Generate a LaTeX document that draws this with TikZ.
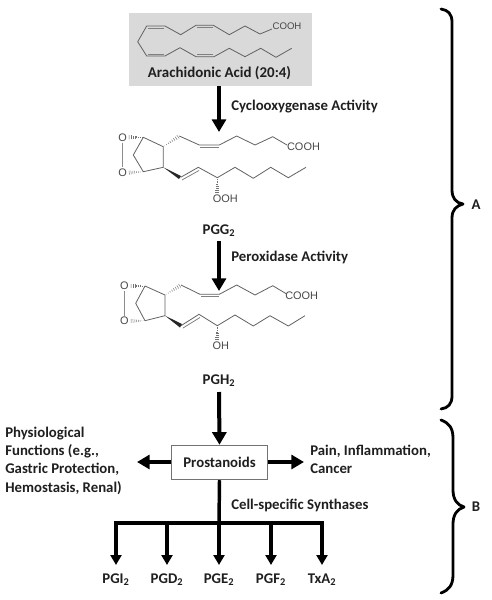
\documentclass[tikz,border=0pt]{standalone}
\usepackage{fontspec}
\setmainfont{Carlito}
\newfontfamily\chemfont{Liberation Sans}
\usetikzlibrary{arrows.meta,calc}
\tikzset{
 lab/.style={font=\fontsize{11.1}{13.6}\selectfont\bfseries, text=black!88, inner sep=0pt},
 leftlab/.style={lab, anchor=west, align=left},
 chem/.style={font=\chemfont\fontsize{8.2}{10}\selectfont, text=black!72, inner sep=0pt, outer sep=1pt},
 bond/.style={draw=black!62, line width=0.6pt, line join=round},
 dbl/.style={draw=black!50, line width=0.6pt},
 flow/.style={draw=black, line width=3pt, -{Triangle[width=10.5pt,length=9.5pt]}},
 trunk/.style={draw=black, line width=2.6pt},
 branch/.style={draw=black, line width=2.4pt, -{Triangle[width=8.2pt,length=7.5pt]}},
 brace/.style={draw=black, line width=2.1pt, line cap=round, line join=round},
 hashline/.style={draw=black!55, line width=0.35pt},
}
\newcommand{\hashw}[2]{\foreach \i in {0.08,0.2,...,1.02}{\draw[hashline] ($(#1)!\i!(#2)!\i*1.7pt!90:(#2)$) -- ($(#1)!\i!(#2)!\i*1.7pt!-90:(#2)$);}}
\newcommand{\subtwo}{\textsubscript{2}}
\begin{document}
\begin{tikzpicture}[x=0.75pt,y=-0.75pt]
\useasboundingbox (0,0) rectangle (492,600);
\fill[black!15] (129,13) rectangle (312,86);
\node[coordinate] (aaboxs) at (219,86) {};
% arachidonic acid
\node[lab, font=\fontsize{11.2}{13}\selectfont\bfseries] (aa) at (219.5,73) {Arachidonic Acid (20:4)};
\node[chem, font=\chemfont\fontsize{7.2}{9}\selectfont] (cooh0) at (287,26.5) {COOH};
\draw[bond] (272,29) -- (260,34) -- (245,26) -- (229.3,34.7) -- (213.3,25.3) -- (196,25.3) -- (180.7,34.7) -- (165,26) -- (146.7,26) -- (137.7,41.7) -- (146.7,56) -- (165,56) -- (180,47.7) -- (196,56.7) -- (214,56.7) -- (229.3,48.3) -- (245,56.7) -- (260.7,48.3) -- (276,57.3) -- (291.7,48.3);
\draw[dbl] (197,27.3) -- (212.5,27.3) (148,28) -- (164,28) (148,54) -- (164,54) (197,54.7) -- (213,54.7);
% PGG2
\node[chem] (o1) at (122.7,137.3) {O};
\node[chem] (o2) at (122.7,172.7) {O};
\node[chem] (cooh1) at (303.5,146.5) {COOH};
\node[chem] (ooh) at (225.3,198.3) {OOH};
\coordinate (a1) at (143.3,137.3);
\coordinate (a2) at (163.3,146.7);
\coordinate (a3) at (163.3,167.3);
\coordinate (a4) at (143.3,171.7);
\coordinate (a5) at (179.3,136);
\coordinate (a6) at (217.3,177.7);
\coordinate (a7) at (217.3,193);
\coordinate (a8) at (128,137.3);
\coordinate (a9) at (128,172.7);
\draw[bond, black!45] (o1) -- (o2);
\draw[bond] (a1) -- (a2) -- (a3) -- (a4) -- (133.3,155) -- cycle;
\hashw{a1}{a8}
\hashw{a4}{a9}
\hashw{a2}{a5}
\draw[bond] (a5) -- (199.3,145) -- (219.3,145) -- (236.7,136) -- (255,145) -- (272.7,136.7) -- (287,145);
\draw[dbl] (200,147) -- (219,147);
\fill[black!85] (a3) -- (181,176) -- (179,179) -- cycle;
\draw[bond] (180.7,177.3) -- (198.3,167.3) -- (a6) -- (235,167.3) -- (253.3,178.3) -- (270.7,167.3) -- (288.3,177.7) -- (306,167.3);
\draw[dbl] (182,180) -- (199,170.5);
\hashw{a6}{a7}
% PGH2
\node[chem] (o3) at (124.3,286) {O};
\node[chem] (o4) at (124.3,321) {O};
\node[chem] (cooh2) at (301.7,295.7) {COOH};
\node[chem] (oh) at (220.7,346) {OH};
\coordinate (b1) at (145,286);
\coordinate (b2) at (165,295);
\coordinate (b3) at (165,315.7);
\coordinate (b4) at (145,320.7);
\coordinate (b5) at (181,285);
\coordinate (b6) at (217.3,325.7);
\coordinate (b7) at (217.3,340);
\coordinate (b8) at (130,286);
\coordinate (b9) at (130,321);
\draw[bond, black!45] (o3) -- (o4);
\draw[bond] (b1) -- (b2) -- (b3) -- (b4) -- (135.7,303.3) -- cycle;
\hashw{b1}{b8}
\hashw{b4}{b9}
\hashw{b2}{b5}
\draw[bond] (b5) -- (200,294.3) -- (219.3,294.3) -- (236.7,285) -- (255,295) -- (272.7,285.7) -- (286.7,294);
\draw[dbl] (201,296.3) -- (219,296.3);
\fill[black!85] (b3) -- (182,324) -- (180,327.5) -- cycle;
\draw[bond] (181,325.7) -- (199,314.3) -- (b6) -- (235,315) -- (253.3,326) -- (270,315.7) -- (288.3,326) -- (305,315.7);
\draw[dbl] (183,328) -- (200,317.5);
\hashw{b6}{b7}
% main labels
\node[lab] (pgg) at (219,231) {PGG$\subtwo$};
\node[lab] (pgh) at (219,381) {PGH$\subtwo$};
\node[leftlab] (cox) at (231,107) {Cyclooxygenase Activity};
\node[leftlab] (pox) at (231,257) {Peroxidase Activity};
\node[lab, draw=black!55, line width=0.6pt, fill=white, minimum width=72.5pt, minimum height=26pt] (pros) at (219.5,462.5) {Prostanoids};
\node[leftlab, anchor=north west] (phys) at (5,427) {Physiological\\Functions (e.g.,\\Gastric Protection,\\Hemostasis, Renal)};
\node[leftlab, anchor=north west] (pain) at (310,445) {Pain, Inflammation,\\Cancer};
\node[leftlab] (syn) at (231,505) {Cell-specific Synthases};
\node[lab] (pgi) at (116,580) {PGI\subtwo};
\node[lab] (pgd) at (167,580) {PGD\subtwo};
\node[lab] (pge) at (219,580) {PGE\subtwo};
\node[lab] (pgf) at (271,580) {PGF\subtwo};
\node[lab] (txa) at (322,580) {TxA\subtwo};
\node[lab] (labA) at (476,205) {A};
\node[lab] (labB) at (476,507) {B};
% arrows
\node[coordinate] (c1) at (219,132) {};
\node[coordinate] (p1) at (219,241) {};
\node[coordinate] (p2) at (219,291) {};
\node[coordinate] (p3) at (219,392) {};
\node[coordinate] (al) at (137,462) {};
\node[coordinate] (ar) at (304,462) {};
\node[coordinate] (j) at (219,523) {};
\node[coordinate] (jl) at (116,523) {};
\node[coordinate] (jr) at (322,523) {};
\node[coordinate] (j2) at (167,523) {};
\node[coordinate] (j4) at (271,523) {};
\draw[flow] (aaboxs) -- (c1);
\draw[flow] (p1) -- (p2);
\draw[flow] (p3) -- (pros.north);
\draw[flow] (pros.west |- al) -- (al);
\draw[flow] (pros.east |- ar) -- (ar);
\draw[trunk] (pros.south) -- (j);
\draw[trunk, line cap=rect] (jl) -- (jr);
\foreach \a/\x in {jl/116,j2/167,j/219,j4/271,jr/322}{
 \draw[branch] (\a) -- (\x,565);
}
% braces
\draw[brace] (441,9) .. controls (448,10) and (452,14) .. (452,22) -- (452,190) .. controls (452,198) and (456,203) .. (463,204) .. controls (456,206) and (452,210) .. (452,218) -- (452,396) .. controls (452,404) and (448,408) .. (441,409);
\draw[brace] (441,420) .. controls (449,423) and (453,428) .. (453,438) -- (453,490) .. controls (453,499) and (457,505) .. (464,507) .. controls (457,509) and (453,515) .. (453,524) -- (453,575) .. controls (453,585) and (449,590) .. (441,593);
\end{tikzpicture}
\end{document}
